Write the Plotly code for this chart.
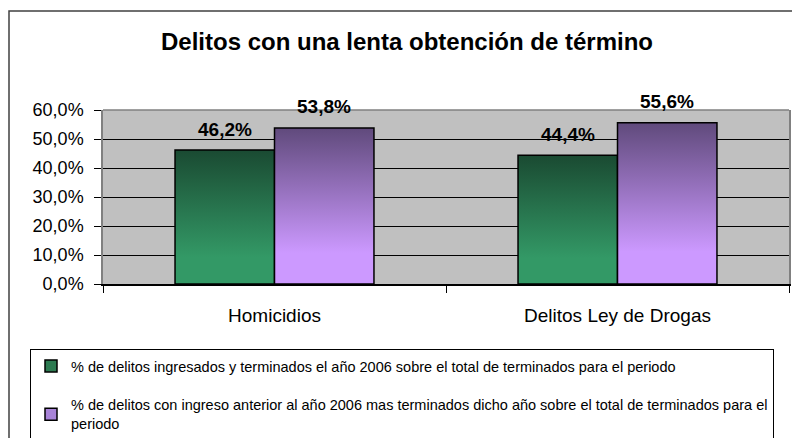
import plotly.graph_objects as go

# ---- data ----
categories = ["Homicidios", "Delitos Ley de Drogas"]
series_names = [
    "% de delitos ingresados y terminados el año 2006 sobre el total de terminados para el periodo",
    "% de delitos con ingreso anterior al año 2006 mas terminados dicho año sobre el total de terminados para el<br>periodo",
]
ingresados_2006 = [0.462, 0.444]
ingreso_anterior = [0.538, 0.556]
y_ticks = [0.0, 0.1, 0.2, 0.3, 0.4, 0.5, 0.6]

title_text = "<b>Delitos con una lenta obtención de término</b>"

FONT = "Liberation Sans, Arial, sans-serif"
W, H = 792, 438
ML, MR, MT, MB = 103, 3, 110, 154
PW = W - ML - MR
PH = H - MT - MB

bar_w = 0.29
idx = list(range(len(categories)))

fig = go.Figure()
fig.add_trace(go.Bar(
    x=idx, y=ingresados_2006, width=bar_w, offset=-bar_w,
    name=series_names[0], legendgroup="a",
    marker=dict(color="#2c7a50", line=dict(color="black", width=1.5)),
    hoverinfo="skip",
))
fig.add_trace(go.Bar(
    x=idx, y=ingreso_anterior, width=bar_w, offset=0,
    name=series_names[1], legendgroup="b",
    marker=dict(color="#a883d8", line=dict(color="black", width=1.5)),
    hoverinfo="skip",
))

def fmt(v):
    return f"{v*100:.1f}%".replace(".", ",")

ann = []
for i, v in zip(idx, ingresados_2006):
    ann.append(dict(x=i - bar_w / 2, y=v, xref="x", yref="y", text=f"<b>{fmt(v)}</b>",
                    showarrow=False, yshift=21, yanchor="middle",
                    font=dict(family=FONT, size=19, color="black")))
for i, v in zip(idx, ingreso_anterior):
    ann.append(dict(x=i + bar_w / 2, y=v, xref="x", yref="y", text=f"<b>{fmt(v)}</b>",
                    showarrow=False, yshift=21, yanchor="middle",
                    font=dict(family=FONT, size=19, color="black")))

shapes = [
    # outer chart border
    dict(type="rect", xref="paper", yref="paper",
         x0=(9 - ML) / PW, x1=(798 - ML) / PW,
         y0=(PH - (H + 8 - MT)) / PH, y1=(PH - (11 - MT)) / PH,
         line=dict(color="#404040", width=1.5), fillcolor="rgba(0,0,0,0)", layer="below"),
    # top border of plot area (gray)
    dict(type="line", xref="paper", yref="paper", x0=0, x1=1, y0=1, y1=1,
         line=dict(color="#808080", width=1.5), layer="above"),
]

fig.update_layout(
    width=W, height=H,
    margin=dict(l=ML, r=MR, t=MT, b=MB, autoexpand=False),
    paper_bgcolor="white",
    plot_bgcolor="#c0c0c0",
    separators=",.",
    font=dict(family=FONT, color="black"),
    title=dict(text=title_text, x=407 / W, xanchor="center", xref="container",
               y=1 - 42 / H, yanchor="middle", yref="container",
               font=dict(family=FONT, size=24, color="black")),
    barmode="overlay",
    showlegend=True,
    legend=dict(
        x=(30 - ML) / PW, xanchor="left",
        y=(PH - (349 - MT)) / PH, yanchor="top",
        bordercolor="black", borderwidth=1, bgcolor="white",
        font=dict(family=FONT, size=14.5, color="black"),
        tracegroupgap=17, itemwidth=30,
    ),
    annotations=ann,
    shapes=shapes,
    xaxis=dict(
        range=[-0.5, len(categories) - 0.5],
        tickvals=idx, ticktext=categories, ticks="",
        tickfont=dict(family=FONT, size=19, color="black"),
        ticklabelstandoff=13,
        showgrid=False, zeroline=False,
        showline=True, linecolor="black", linewidth=1.5,
        minor=dict(tick0=-0.5, dtick=1, ticks="outside", ticklen=7,
                   tickcolor="black", tickwidth=1, showgrid=False),
        fixedrange=True,
    ),
    yaxis=dict(
        range=[0, 0.6], tickvals=y_ticks, tickformat=".1%",
        ticks="outside", ticklen=7, tickcolor="black", tickwidth=1,
        tickfont=dict(family=FONT, size=18, color="black"),
        ticklabelstandoff=7,
        showgrid=True, gridcolor="black", gridwidth=1,
        zeroline=False,
        showline=True, linecolor="#808080", linewidth=1.5, mirror=True,
        fixedrange=True,
    ),
)

post = """
document.documentElement.style.margin = '0';
document.body.style.margin = '0';
document.body.style.overflow = 'hidden';
var gd = document.getElementById('{plot_id}');
var ns = 'http://www.w3.org/2000/svg';
var svg = gd.querySelector('svg.main-svg');
var defs = svg.querySelector('defs');
if (!defs) { defs = document.createElementNS(ns, 'defs'); svg.insertBefore(defs, svg.firstChild); }
function mk(id, c1, c2) {
  var g = document.createElementNS(ns, 'linearGradient');
  g.setAttribute('id', id);
  g.setAttribute('x1', '0'); g.setAttribute('y1', '0');
  g.setAttribute('x2', '0'); g.setAttribute('y2', '1');
  [[0, c1], [0.8, c2], [1, c2]].forEach(function (s) {
    var st = document.createElementNS(ns, 'stop');
    st.setAttribute('offset', s[0]);
    st.setAttribute('stop-color', s[1]);
    g.appendChild(st);
  });
  defs.appendChild(g);
}
mk('gradGreen', '#1a4a32', '#339966');
mk('gradPurple', '#604a7c', '#cc99ff');
var tr = gd.querySelectorAll('.barlayer .trace');
var ids = ['gradGreen', 'gradPurple'];
tr.forEach(function (t, k) {
  t.querySelectorAll('path').forEach(function (p) { p.style.fill = 'url(#' + ids[k] + ')'; });
});
"""

fig.write_html("out.html", post_script=post, config={"displayModeBar": False})
